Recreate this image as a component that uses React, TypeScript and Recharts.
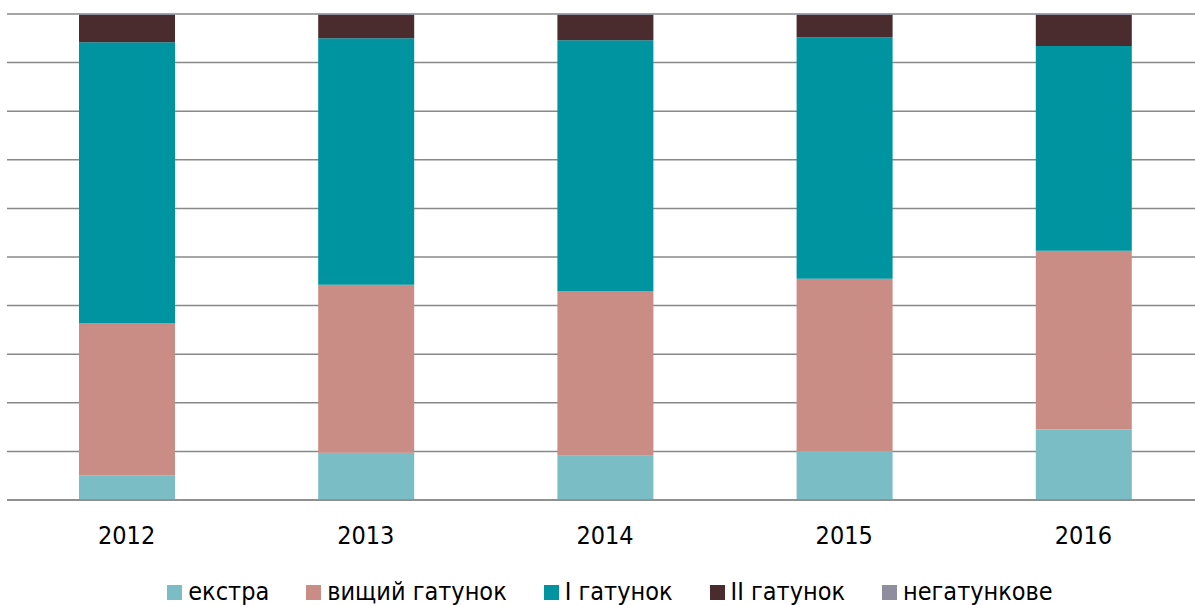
import { Bar, BarChart, CartesianGrid, Legend, XAxis, YAxis } from 'recharts'

const years = ['2012', '2013', '2014', '2015', '2016']
const extra = [5.1, 9.7, 9.1, 10.1, 14.5]
const vyshchyi = [31.3, 34.6, 33.9, 35.4, 36.8]
const pershyi = [57.8, 50.7, 51.6, 49.7, 42.1]
const druhyi = [5.6, 4.8, 5.2, 4.6, 6.4]
const nehatunkove = [0.2, 0.2, 0.2, 0.2, 0.2]
const gridTicks = [0, 0.1, 0.2, 0.3, 0.4, 0.5, 0.6, 0.7, 0.8, 0.9, 1]

const series = [
  { key: 'extra', name: 'екстра', color: '#7bbdc5' },
  { key: 'vyshchyi', name: 'вищий гатунок', color: '#c98d86' },
  { key: 'pershyi', name: 'I гатунок', color: '#0093a0' },
  { key: 'druhyi', name: 'II гатунок', color: '#4a2c2e' },
  { key: 'nehatunkove', name: 'негатункове', color: '#8e8e9e' },
]

const data = years.map((year, i) => ({
  year,
  extra: extra[i],
  vyshchyi: vyshchyi[i],
  pershyi: pershyi[i],
  druhyi: druhyi[i],
  nehatunkove: nehatunkove[i],
}))

// legend drawn by hand so icon size and spacing match the original
function LegendContent() {
  return (
    <div
      style={{
        display: 'flex',
        justifyContent: 'center',
        gap: 37,
        paddingTop: 17,
        paddingLeft: 10,
        fontFamily: 'DejaVu Sans Condensed',
        fontSize: 25,
        lineHeight: '30px',
        color: '#000',
      }}
    >
      {series.map((s) => (
        <span key={s.key} style={{ display: 'flex', alignItems: 'center' }}>
          <span style={{ width: 15, height: 15, background: s.color, marginRight: 6, display: 'inline-block' }} />
          {s.name}
        </span>
      ))}
    </div>
  )
}

export default function App() {
  return (
    <div style={{ position: 'absolute', left: 0, top: 0, width: 1195, height: 605, overflow: 'hidden', background: '#fff' }}>
      <BarChart
        width={1210}
        height={605}
        data={data}
        stackOffset="expand"
        barSize={96}
        margin={{ top: 14, right: 7, left: 7, bottom: 0 }}
      >
        <CartesianGrid vertical={false} stroke="#888" strokeWidth={1.5} />
        <XAxis
          dataKey="year"
          tickLine={false}
          axisLine={{ stroke: '#888', strokeWidth: 1.5 }}
          height={60}
          tick={{ fill: '#000', fontSize: 25, fontFamily: 'DejaVu Sans Condensed' }}
          tickMargin={20}
        />
        <YAxis hide domain={[0, 1]} ticks={gridTicks} />
        <Legend verticalAlign="bottom" height={45} content={LegendContent} />
        {series.map((s) => (
          <Bar key={s.key} dataKey={s.key} name={s.name} stackId="a" fill={s.color} isAnimationActive={false} />
        ))}
      </BarChart>
    </div>
  )
}
